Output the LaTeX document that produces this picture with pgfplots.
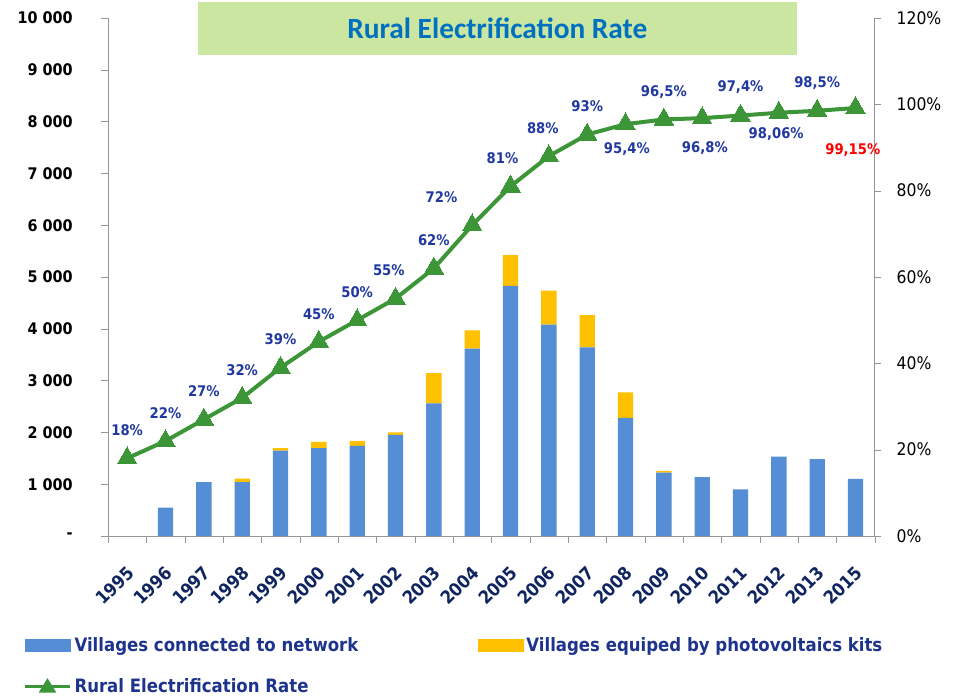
\documentclass[border=0pt]{standalone}
\usepackage{fontspec}
\setmainfont{DejaVu Sans}[FakeStretch=0.9]
\newfontfamily\titlefont{Carlito}
\usepackage{pgfplots}
\usepackage{pgfplotstable}
\pgfplotsset{compat=1.18}

\definecolor{barblue}{RGB}{85,142,213}
\definecolor{baryellow}{RGB}{255,192,0}
\definecolor{linegreen}{RGB}{60,150,55}
\definecolor{labblue}{RGB}{32,56,160}
\definecolor{xlabblue}{RGB}{16,37,96}
\definecolor{legblue}{RGB}{30,52,140}
\definecolor{titleblue}{RGB}{0,112,192}
\definecolor{titlegreen}{RGB}{202,230,160}
\definecolor{axisgray}{RGB}{150,150,150}

% villages per year: connected to network / photovoltaic kits
\pgfplotstableread{
x net pv
0 0 0
1 550 0
2 1040 0
3 1040 70
4 1650 45
5 1695 120
6 1740 95
7 1950 50
8 2560 585
9 3615 355
10 4830 590
11 4080 655
12 3640 625
13 2280 495
14 1225 30
15 1135 0
16 900 0
17 1530 0
18 1485 0
19 1105 0
}\bars

% electrification rate and label offsets (pt)
\pgfplotstableread{
x rate dx dy
0 18 0 21
1 22 0 21
2 27 0 21
3 32 0 21
4 39 0 21
5 45 0 21
6 50 0 21
7 55 -5 21
8 62 0 21
9 72 -23 21
10 81 -6 21
11 88 -4.5 21
12 93 0 21
13 95.4 1 -19
14 96.5 0 20.5
15 96.8 2 -22.5
16 97.4 0 21
17 98.06 -2 -16
18 98.5 0 21
19 99.15 -2 -31.5
}\rates

\begin{document}
\begin{tikzpicture}
\pgfplotsset{
  every axis/.append style={
    width=575pt, height=388.5pt, scale only axis,
    xmin=-0.5, xmax=19.5,
    axis line style={axisgray},
    tick style={axisgray},
    tick align=outside,
    major tick length=5pt, minor tick length=5pt,
    scaled y ticks=false,
  },
  ratelabels/.style={
    draw=none, mark=none, forget plot,
    point meta=y,
    visualization depends on={\thisrow{dx} \as \labdx},
    visualization depends on={\thisrow{dy} \as \labdy},
    nodes near coords={\pgfmathprintnumber[use comma, precision=2, assume math mode=true]{\pgfplotspointmeta}\%},
    every node near coord/.append style={anchor=center, xshift=\labdx pt, yshift=\labdy pt,
      text=#1, font=\bfseries\fontsize{11}{13}\selectfont},
  },
}
\begin{axis}[
    ybar stacked, bar width=11.5pt,
    ymin=0, ymax=10000,
    axis x line*=bottom, axis y line*=left,
    xtick={0,...,19},
    xticklabels={1995,1996,1997,1998,1999,2000,2001,2002,2003,2004,2005,2006,2007,2008,2009,2010,2011,2012,2013,2015},
    major x tick style={draw=none},
    minor xtick={-0.5,0.5,...,19.5},
    x tick label style={xshift=-1pt, yshift=-11.5pt, rotate=45, anchor=north east,
      font=\bfseries\fontsize{13.5}{15}\selectfont, text=xlabblue},
    ytick={0,1000,...,10000},
    yticklabels={-\hspace{12pt},1 000,2 000,3 000,4 000,5 000,6 000,7 000,8 000,9 000,10 000},
    y tick label style={font=\bfseries\fontsize{12}{14}\selectfont, xshift=-18pt},
  ]
\addplot[draw=none, fill=barblue] table[x=x, y=net]{\bars};
\addplot[draw=none, fill=baryellow] table[x=x, y=pv]{\bars};
\coordinate (O) at (rel axis cs:0,0);
\end{axis}

\begin{axis}[
    clip=false,
    ymin=0, ymax=120,
    axis y line*=right, axis x line=none,
    ytick={0,20,...,120},
    yticklabels={0\%,20\%,40\%,60\%,80\%,100\%,120\%},
    y tick label style={font=\fontsize{13}{15}\selectfont, xshift=8pt},
    legend columns=2,
    legend cell align=left,
    legend style={at={(-0.111,-0.19)}, anchor=north west, draw=none, fill=none,
      inner sep=0pt, column sep=0pt, row sep=15pt,
      font=\bfseries\fontsize{13.8}{15}\selectfont, text=legblue},
  ]
\addlegendimage{legend image code/.code={\fill[barblue] (0pt,-4.25pt) rectangle (34pt,4.25pt);}}
\addlegendentry{\makebox[300.5pt][l]{Villages connected to network}}
\addlegendimage{legend image code/.code={\fill[baryellow] (0pt,-4.25pt) rectangle (34pt,4.25pt);}}
\addlegendentry{Villages equiped by photovoltaics kits}
\addplot[linegreen, line width=3pt, mark=triangle*, mark size=8.5pt,
    mark options={solid, line width=0pt, fill=linegreen},
    legend image code/.code={
      \draw[linegreen, line width=2.5pt] (0pt,0pt) -- (34pt,0pt);
      \fill[linegreen] (13pt,-3pt) -- (21pt,-3pt) -- (17pt,3.5pt) -- cycle;},
  ] table[x=x, y=rate]{\rates};
\addlegendentry{Rural Electrification Rate}
\addplot[ratelabels=labblue, restrict x to domain=0:18] table[x=x, y=rate]{\rates};
\addplot[ratelabels=red, restrict x to domain=19:19] table[x=x, y=rate]{\rates};
\node[fill=titlegreen, minimum width=449.25pt, minimum height=39.75pt, inner sep=0pt,
  font=\titlefont\bfseries\fontsize{22}{26}\selectfont, text=titleblue]
  at (rel axis cs:0.5078,0.9797) {Rural Electrification Rate};
\end{axis}
\pgfresetboundingbox
\path[use as bounding box] (O) ++(-81pt,-120pt) rectangle ++(716.25pt,522pt);
\end{tikzpicture}
\end{document}
